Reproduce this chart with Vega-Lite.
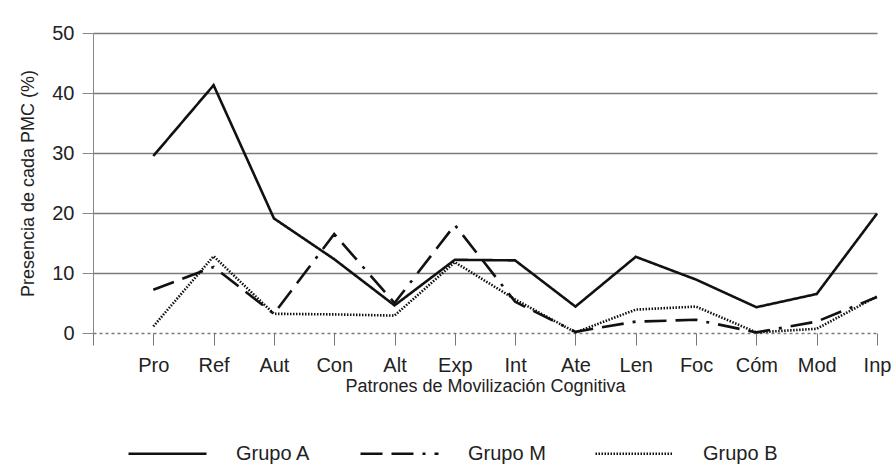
{
  "$schema": "https://vega.github.io/schema/vega-lite/v6.json",
  "width": 784,
  "height": 300,
  "autosize": {"type": "none"},
  "padding": {"left": 93, "top": 33, "right": 17, "bottom": 143},
  "background": "white",
  "config": {"view": {"stroke": null}, "font": "Liberation Sans"},
  "data": {
    "values": [
      {"pmc": "Pro", "grupo": "Grupo A", "valor": 29.5},
      {"pmc": "Ref", "grupo": "Grupo A", "valor": 41.3},
      {"pmc": "Aut", "grupo": "Grupo A", "valor": 19.1},
      {"pmc": "Con", "grupo": "Grupo A", "valor": 12.3},
      {"pmc": "Alt", "grupo": "Grupo A", "valor": 4.6},
      {"pmc": "Exp", "grupo": "Grupo A", "valor": 12.2},
      {"pmc": "Int", "grupo": "Grupo A", "valor": 12.1},
      {"pmc": "Ate", "grupo": "Grupo A", "valor": 4.4},
      {"pmc": "Len", "grupo": "Grupo A", "valor": 12.7},
      {"pmc": "Foc", "grupo": "Grupo A", "valor": 8.9},
      {"pmc": "Cóm", "grupo": "Grupo A", "valor": 4.3},
      {"pmc": "Mod", "grupo": "Grupo A", "valor": 6.5},
      {"pmc": "Inp", "grupo": "Grupo A", "valor": 19.9},
      {"pmc": "Pro", "grupo": "Grupo M", "valor": 7.2},
      {"pmc": "Ref", "grupo": "Grupo M", "valor": 11.0},
      {"pmc": "Aut", "grupo": "Grupo M", "valor": 3.2},
      {"pmc": "Con", "grupo": "Grupo M", "valor": 16.5},
      {"pmc": "Alt", "grupo": "Grupo M", "valor": 5.0},
      {"pmc": "Exp", "grupo": "Grupo M", "valor": 18.0},
      {"pmc": "Int", "grupo": "Grupo M", "valor": 5.2},
      {"pmc": "Ate", "grupo": "Grupo M", "valor": 0.2},
      {"pmc": "Len", "grupo": "Grupo M", "valor": 1.9},
      {"pmc": "Foc", "grupo": "Grupo M", "valor": 2.2},
      {"pmc": "Cóm", "grupo": "Grupo M", "valor": 0.1},
      {"pmc": "Mod", "grupo": "Grupo M", "valor": 1.9},
      {"pmc": "Inp", "grupo": "Grupo M", "valor": 6.0},
      {"pmc": "Pro", "grupo": "Grupo B", "valor": 1.1},
      {"pmc": "Ref", "grupo": "Grupo B", "valor": 12.8},
      {"pmc": "Aut", "grupo": "Grupo B", "valor": 3.2},
      {"pmc": "Con", "grupo": "Grupo B", "valor": 3.1},
      {"pmc": "Alt", "grupo": "Grupo B", "valor": 2.9},
      {"pmc": "Exp", "grupo": "Grupo B", "valor": 11.8},
      {"pmc": "Int", "grupo": "Grupo B", "valor": 5.6},
      {"pmc": "Ate", "grupo": "Grupo B", "valor": 0.1},
      {"pmc": "Len", "grupo": "Grupo B", "valor": 3.9},
      {"pmc": "Foc", "grupo": "Grupo B", "valor": 4.4},
      {"pmc": "Cóm", "grupo": "Grupo B", "valor": 0.1},
      {"pmc": "Mod", "grupo": "Grupo B", "valor": 0.7},
      {"pmc": "Inp", "grupo": "Grupo B", "valor": 6.1}
    ]
  },
  "mark": {"type": "line", "color": "#111111"},
  "encoding": {
    "x": {
      "field": "pmc",
      "type": "ordinal",
      "sort": null,
      "scale": {
        "type": "point",
        "domain": ["", "Pro", "Ref", "Aut", "Con", "Alt", "Exp", "Int", "Ate", "Len", "Foc", "Cóm", "Mod", "Inp"],
        "padding": 0
      },
      "axis": {
        "title": "Patrones de Movilización Cognitiva",
        "titleFontSize": 18,
        "titleFontWeight": "normal",
        "titleColor": "#222222",
        "titlePadding": 2,
        "labelAngle": 0,
        "labelFontSize": 20,
        "labelColor": "#222222",
        "labelPadding": 10,
        "domain": false,
        "ticks": true,
        "tickSize": 12,
        "tickColor": "#777777",
        "grid": false
      }
    },
    "y": {
      "field": "valor",
      "type": "quantitative",
      "scale": {"domain": [0, 50]},
      "axis": {
        "title": "Presencia de cada PMC (%)",
        "titleFontSize": 18,
        "titleFontWeight": "normal",
        "titleColor": "#222222",
        "titlePadding": 14,
        "values": [0, 10, 20, 30, 40, 50],
        "labelFontSize": 20,
        "labelColor": "#222222",
        "labelPadding": 8,
        "tickSize": 11,
        "tickColor": "#888888",
        "domain": true,
        "domainColor": "#888888",
        "grid": true,
        "gridColor": "#7a7a7a",
        "gridOpacity": 1,
        "gridWidth": 1.3,
        "gridDash": {"condition": {"test": "datum.value === 0", "value": [3, 3]}, "value": []}
      }
    },
    "strokeWidth": {
      "field": "grupo",
      "type": "nominal",
      "scale": {"domain": ["Grupo A", "Grupo M", "Grupo B"], "range": [2.6, 2.6, 3.2]},
      "legend": null
    },
    "strokeDash": {
      "field": "grupo",
      "type": "nominal",
      "scale": {
        "domain": ["Grupo A", "Grupo M", "Grupo B"],
        "range": [[1, 0], [22, 9, 22, 9, 3, 9], [1.5, 1.5]]
      },
      "legend": {
        "title": null,
        "orient": "none",
        "direction": "horizontal",
        "columns": 3,
        "legendX": 34,
        "legendY": 380,
        "padding": 0,
        "symbolType": "stroke",
        "symbolSize": 6084,
        "symbolStrokeWidth": 2.6,
        "symbolStrokeColor": "#111111",
        "labelFontSize": 20,
        "labelColor": "#222222",
        "labelOffset": 28,
        "columnPadding": 44
      }
    }
  }
}
